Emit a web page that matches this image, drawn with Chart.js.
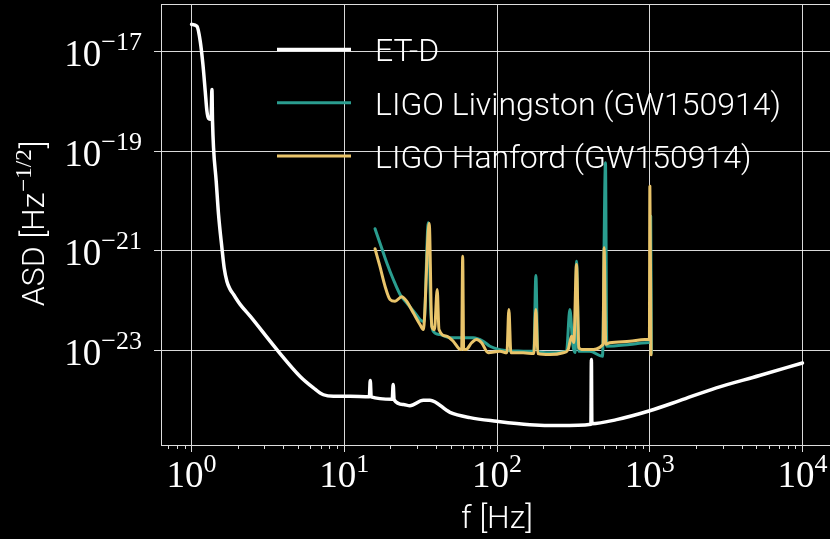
<!DOCTYPE html>
<html>
<head>
<meta charset="utf-8">
<script src="https://cdn.jsdelivr.net/npm/chart.js@4"></script>
<style>
  html, body { margin: 0; padding: 0; background: #000; overflow: hidden; }
  #wrap { width: 836px; height: 539px; }
</style>
</head>
<body>
<div id="wrap"><canvas id="asdChart" width="836" height="539"></canvas></div>
<script>
// ET-D design sensitivity
const etFreq = [1.0, 1.085, 1.14, 1.187, 1.229, 1.261, 1.292, 1.34, 1.36, 1.372, 1.393, 1.45, 1.502, 1.58, 1.636,
  1.705, 1.79, 1.88, 2.08, 2.42, 3.62, 5.14, 6.28, 7.3, 8.49, 10.9, 14.6, 14.8, 15.0, 20.6, 20.9, 21.2, 24.4,
  26.9, 32.9, 36.4, 49.2, 66.5, 99.4, 164, 258, 412, 415, 418, 606, 1000, 1570, 2730, 5240, 10000];
const etAsd = [3.55e-17, 3.27e-17, 1.63e-17, 5.55e-18, 1.62e-18, 6.38e-19, 4.57e-19, 4.36e-19, 1.74e-18, 3.98e-19,
  1.17e-19, 2.51e-20, 5.37e-21, 1.15e-21, 4.47e-22, 2.4e-22, 1.66e-22, 1.32e-22, 8.3e-23, 4.79e-23, 1.02e-23,
  2.95e-24, 1.74e-24, 1.26e-24, 1.17e-24, 1.17e-24, 1.15e-24, 2.45e-24, 1.14e-24, 1.02e-24, 2.03e-24, 1.0e-24,
  8.0e-25, 7.6e-25, 9.8e-25, 9.8e-25, 5.6e-25, 4.37e-25, 3.7e-25, 3.16e-25, 3.02e-25, 3.23e-25, 6.45e-24,
  3.3e-25, 3.98e-25, 6.0e-25, 9.6e-25, 1.74e-24, 3.07e-24, 5.5e-24];

// LIGO Livingston around GW150914
const lloFreq = [15.9, 17.1, 18.97, 20.95, 23.2, 25.6, 29.0, 31.3, 33.3, 35.5, 36.8, 38.2, 42.3, 49.2, 69.9, 81.2,
  89.9, 104.5, 148.4, 174.3, 179.7, 184.9, 221.8, 285.3, 299.9, 313.6, 325, 331.6, 343.4, 405.2, 490.5, 513.1,
  523.4, 739.9, 951.5, 1005, 1015, 1025];
const lloAsd = [2.75e-21, 1.44e-21, 5.69e-22, 2.62e-22, 1.31e-22, 8.9e-23, 5.6e-23, 4.11e-23, 3.74e-23, 3.62e-21,
  6.53e-23, 2.39e-23, 2.05e-23, 1.76e-23, 1.76e-23, 1.5e-23, 1.19e-23, 1.02e-23, 9.46e-24, 9.4e-24, 3.15e-22,
  9.3e-24, 8.79e-24, 9.46e-24, 6.53e-23, 1.29e-23, 8.9e-24, 6.12e-22, 9.46e-24, 9.46e-24, 7.5e-24, 5.85e-20,
  1.19e-23, 1.29e-23, 1.4e-23, 1.45e-23, 4.92e-21, 8.79e-24];

// LIGO Hanford around GW150914
const lhoFreq = [15.9, 17.1, 18.49, 19.93, 21.49, 23.77, 25.6, 28.3, 31.3, 32.9, 36.0, 37.4, 38.96, 40.6, 41.7, 46.8,
  51.7, 56.3, 58.7, 59.6, 60.5, 62.6, 68.2, 73.6, 79.3, 87.6, 104.5, 116.1, 119.6, 123.3, 148.4, 174.3, 179.7,
  184.9, 221.8, 271, 292.3, 307.5, 318.4, 331.6, 343.4, 357.6, 405.2, 495, 502.5, 515.5, 547.3, 739.9, 927.6,
  995, 1002, 1020];
const lhoAsd = [1.09e-21, 4.85e-22, 1.92e-22, 1.04e-22, 9.6e-23, 1.18e-22, 9.6e-23, 5.6e-23, 3.26e-23, 2.58e-23,
  3.51e-21, 3.01e-23, 2.58e-23, 1.65e-22, 2.58e-23, 1.9e-23, 1.5e-23, 1.07e-23, 1.02e-23, 7.71e-22, 1.02e-23,
  1.02e-23, 1.4e-23, 1.63e-23, 1.4e-23, 8.8e-24, 9.46e-24, 8.8e-24, 6.53e-23, 8.8e-24, 8.8e-24, 8.5e-24, 6.53e-23,
  8.5e-24, 8.1e-24, 8.8e-24, 1.02e-23, 1.9e-23, 1.42e-23, 5.25e-22, 1.12e-23, 1.02e-23, 1.02e-23, 1.29e-23,
  1.14e-21, 1.3e-23, 1.4e-23, 1.5e-23, 1.63e-23, 1.65e-23, 1.98e-20, 8.0e-24];

const seriesLabels = ["ET-D", "LIGO Livingston (GW150914)", "LIGO Hanford (GW150914)"];
const seriesColors = ["#ffffff", "#2a9d8f", "#e9c46a"];

// major ticks (powers of ten)
const xMajor = [1, 10, 100, 1000, 10000];
const yMajor = [1e-23, 1e-21, 1e-19, 1e-17];

const gridColor = "rgba(255, 255, 255, 0.85)";
const frameColor = "#dddddd";
const serif = "'Liberation Serif', 'DejaVu Serif', serif";
const sans = "300 32px Roboto, 'Open Sans', sans-serif";

function toPoints(xs, ys) {
  return xs.map((x, i) => ({ x: x, y: ys[i] }));
}

// "10" with a raised exponent, anchored at px
function drawPower(ctx, px, baseline, exp, align, rise) {
  const base = "10";
  const sup = exp < 0 ? "\u2212" + -exp : String(exp);
  ctx.font = "37px " + serif;
  const w1 = ctx.measureText(base).width;
  ctx.font = "26px " + serif;
  const w2 = ctx.measureText(sup).width;
  const start = align === "center" ? px - (w1 + w2) / 2 : px - (w1 + w2);
  ctx.font = "37px " + serif;
  ctx.fillText(base, start, baseline);
  ctx.font = "26px " + serif;
  ctx.fillText(sup, start + w1, baseline - rise);
}

const decorations = {
  id: "decorations",
  afterDraw(chart) {
    const { ctx, chartArea: a } = chart;
    const x = chart.scales.x;
    const y = chart.scales.y;
    ctx.save();

    // top/right frame
    ctx.strokeStyle = frameColor;
    ctx.lineWidth = 1;
    ctx.beginPath();
    ctx.moveTo(a.left, Math.round(a.top) + 0.5);
    ctx.lineTo(a.right, Math.round(a.top) + 0.5);
    ctx.moveTo(Math.round(a.right) - 0.5, a.top);
    ctx.lineTo(Math.round(a.right) - 0.5, a.bottom);
    ctx.stroke();

    // minor ticks along f
    ctx.beginPath();
    for (let d = -1; d <= 4; d++) {
      for (let m = 2; m <= 9; m++) {
        const v = m * Math.pow(10, d);
        if (v < x.min || v > x.max) continue;
        const px = Math.round(x.getPixelForValue(v)) + 0.5;
        ctx.moveTo(px, a.bottom);
        ctx.lineTo(px, a.bottom + 4);
      }
    }
    ctx.stroke();

    // tick labels
    ctx.fillStyle = "#ffffff";
    ctx.textBaseline = "alphabetic";
    ctx.textAlign = "left";
    x.ticks.forEach((t) => {
      drawPower(ctx, x.getPixelForValue(t.value), a.bottom + 42, Math.round(Math.log10(t.value)), "center", 15);
    });
    y.ticks.forEach((t) => {
      drawPower(ctx, 142, y.getPixelForValue(t.value) + 14.5, Math.round(Math.log10(t.value)), "right", 16);
    });

    // axis titles
    ctx.font = sans;
    ctx.textAlign = "center";
    ctx.fillText("f [Hz]", (a.left + a.right) / 2, 528);

    ctx.save();
    ctx.translate(43.5, (a.top + a.bottom) / 2);
    ctx.rotate(-Math.PI / 2);
    ctx.textAlign = "left";
    const p1 = "ASD [Hz";
    const p2 = "\u22121/2";
    const p3 = "]";
    ctx.font = sans;
    const w1 = ctx.measureText(p1).width;
    const w3 = ctx.measureText(p3).width;
    ctx.font = "23px " + serif;
    const w2 = ctx.measureText(p2).width;
    const sx = -(w1 + w2 + w3) / 2;
    ctx.font = sans;
    ctx.fillText(p1, sx, 0);
    ctx.font = "23px " + serif;
    ctx.fillText(p2, sx + w1 + 1, -13);
    ctx.font = sans;
    ctx.fillText(p3, sx + w1 + w2 + 2, 0);
    ctx.restore();

    // legend
    chart.data.datasets.forEach((ds, i) => {
      const ly = 49.5 + i * 53.2;
      ctx.strokeStyle = ds.borderColor;
      ctx.lineWidth = ds.borderWidth;
      ctx.beginPath();
      ctx.moveTo(277, ly);
      ctx.lineTo(351, ly);
      ctx.stroke();
      ctx.font = sans;
      ctx.textAlign = "left";
      ctx.fillStyle = "#ffffff";
      ctx.fillText(ds.label, 375, ly + 11.8);
    });

    ctx.restore();
  },
};

const series = [
  { freq: etFreq, asd: etAsd, width: 3.5, order: 2 },
  { freq: lloFreq, asd: lloAsd, width: 3, order: 1 },
  { freq: lhoFreq, asd: lhoAsd, width: 3, order: 0 },
];

new Chart(document.getElementById("asdChart"), {
  type: "line",
  data: {
    datasets: series.map((s, i) => ({
      label: seriesLabels[i],
      data: toPoints(s.freq, s.asd),
      borderColor: seriesColors[i],
      backgroundColor: seriesColors[i],
      borderWidth: s.width,
      pointRadius: 0,
      cubicInterpolationMode: "monotone",
      borderCapStyle: "round",
      borderJoinStyle: "round",
      order: s.order,
    })),
  },
  options: {
    responsive: false,
    animation: false,
    devicePixelRatio: 1,
    layout: { padding: { left: 0, top: 4, right: 3, bottom: 0 } },
    plugins: {
      legend: { display: false },
      tooltip: { enabled: false },
    },
    scales: {
      x: {
        type: "logarithmic",
        bounds: "data",
        min: Math.pow(10, -0.2),
        max: Math.pow(10, 4.2),
        afterBuildTicks: (scale) => {
          scale.ticks = xMajor.map((v) => ({ value: v }));
        },
        afterFit: (scale) => {
          scale.height = 94;
        },
        ticks: { display: false },
        grid: { color: gridColor, lineWidth: 1, tickColor: frameColor, tickLength: 7 },
        border: { display: true, color: frameColor, width: 1 },
      },
      y: {
        type: "logarithmic",
        bounds: "data",
        min: Math.pow(10, -24.91),
        max: Math.pow(10, -16.04),
        afterBuildTicks: (scale) => {
          scale.ticks = yMajor.map((v) => ({ value: v }));
        },
        afterFit: (scale) => {
          scale.width = 161;
        },
        ticks: { display: false },
        grid: { color: gridColor, lineWidth: 1, tickColor: frameColor, tickLength: 7 },
        border: { display: true, color: frameColor, width: 1 },
      },
    },
  },
  plugins: [decorations],
});
</script>
</body>
</html>
